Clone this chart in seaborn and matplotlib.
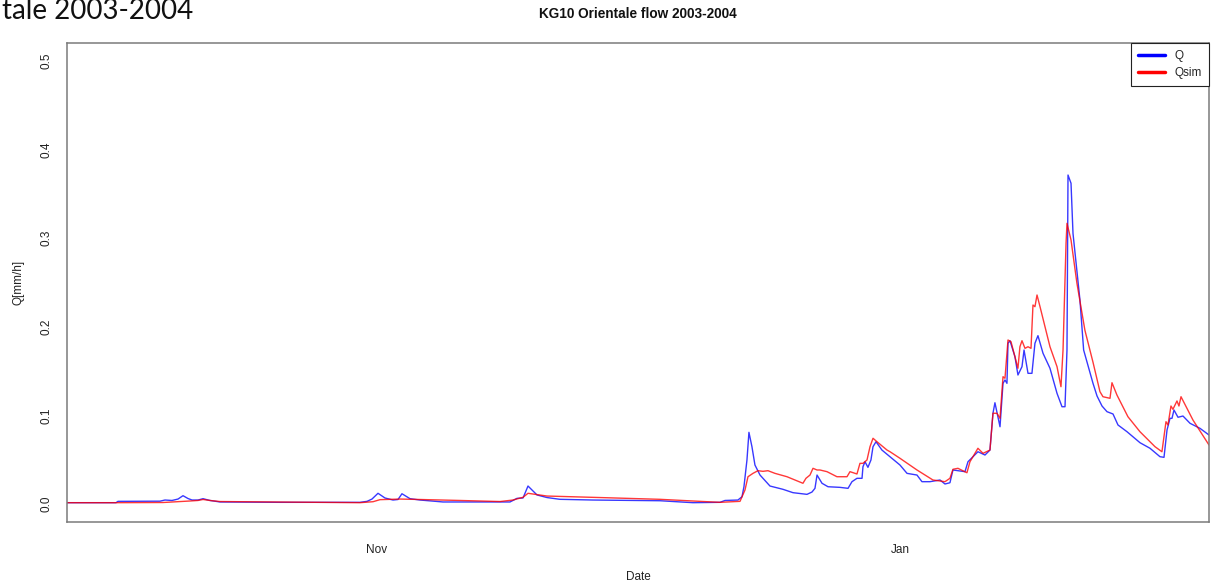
import numpy as np
import pandas as pd
import matplotlib
matplotlib.use("Agg")
import matplotlib.pyplot as plt
import seaborn as sns
from matplotlib.lines import Line2D

# ---------------- data ----------------
series_start = "2003-09-26"
x_range_days = [0.0, 133.0]

# observed flow Q: days since series_start, value [mm/h]
q_days = [0.00, 5.71, 5.94, 10.83, 11.41, 12.23, 12.93, 13.51, 14.09, 14.56, 15.26, 15.84,
          16.65, 17.82, 24.81, 31.44, 34.12, 34.94, 35.52, 36.22, 37.03, 37.97, 38.55, 39.01,
          39.95, 41.11, 43.79, 48.10, 51.59, 52.41, 53.11, 53.69, 54.15, 54.74, 55.90, 57.41,
          61.26, 65.57, 69.06, 72.90, 76.05, 76.63, 78.14, 78.61, 78.84, 79.19, 79.42, 79.77,
          80.12, 80.71, 81.87, 83.38, 84.55, 86.18, 86.76, 87.11, 87.35, 87.93, 88.63, 90.02,
          90.96, 91.42, 92.00, 92.59, 92.70, 92.94, 93.28, 93.63, 93.87, 94.22, 94.91, 95.61,
          97.01, 97.83, 98.99, 99.57, 100.50, 101.67, 102.25, 102.83, 103.18, 104.58, 104.93,
          106.09, 106.91, 107.49, 107.84, 108.07, 108.66, 109.01, 109.24, 109.47, 109.59,
          109.82, 110.40, 110.75, 111.22, 111.46, 111.92, 112.38, 112.73, 113.08, 113.67,
          114.48, 115.30, 115.88, 116.23, 116.46, 116.58, 116.93, 117.16, 117.97, 118.40,
          119.49, 119.96, 120.54, 121.12, 121.82, 122.40, 123.45, 124.96, 126.13, 127.29,
          127.76, 128.11, 128.46, 128.69, 128.92, 129.39, 129.97, 130.79, 131.95, 133.00]
q_vals = [0.0015, 0.0015, 0.0030, 0.0032, 0.0045, 0.0040, 0.0056, 0.0094, 0.0062, 0.0045,
          0.0045, 0.0060, 0.0040, 0.0023, 0.0019, 0.0019, 0.0019, 0.0030, 0.0056, 0.0121,
          0.0068, 0.0045, 0.0051, 0.0116, 0.0060, 0.0045, 0.0023, 0.0023, 0.0023, 0.0064,
          0.0068, 0.0203, 0.0158, 0.0102, 0.0073, 0.0053, 0.0045, 0.0040, 0.0037, 0.0015,
          0.0019, 0.0040, 0.0045, 0.0082, 0.0195, 0.0497, 0.0809, 0.0647, 0.0440, 0.0327,
          0.0203, 0.0166, 0.0128, 0.0109, 0.0135, 0.0177, 0.0327, 0.0234, 0.0195, 0.0188,
          0.0177, 0.0252, 0.0290, 0.0290, 0.0421, 0.0477, 0.0414, 0.0497, 0.0647, 0.0703,
          0.0609, 0.0553, 0.0440, 0.0346, 0.0327, 0.0252, 0.0252, 0.0271, 0.0226, 0.0240,
          0.0384, 0.0365, 0.0477, 0.0590, 0.0553, 0.0609, 0.1024, 0.1143, 0.0872, 0.1362,
          0.1400, 0.1362, 0.1814, 0.1843, 0.1663, 0.1456, 0.1550, 0.1738, 0.1475, 0.1475,
          0.1814, 0.1900, 0.1701, 0.1532, 0.1249, 0.1098, 0.1098, 0.1738, 0.3713, 0.3620,
          0.3055, 0.2302, 0.1738, 0.1362, 0.1219, 0.1106, 0.1042, 0.1016, 0.0892, 0.0816,
          0.0692, 0.0629, 0.0534, 0.0527, 0.0835, 0.0967, 0.0967, 0.1061, 0.0979, 0.0993,
          0.0911, 0.0854, 0.0779]

# simulated flow Qsim
qsim_days = [0.00, 5.82, 11.18, 14.32, 15.26, 15.84, 16.65, 17.82, 31.79, 34.12, 35.64, 36.45,
             38.78, 41.11, 45.77, 50.43, 51.94, 53.11, 53.69, 55.90, 62.07, 69.06, 72.90,
             76.05, 78.38, 78.96, 79.31, 79.89, 80.47, 81.05, 81.64, 82.45, 83.85, 85.71,
             86.06, 86.53, 86.88, 87.35, 87.69, 88.51, 89.67, 90.84, 91.19, 92.00, 92.35,
             92.70, 93.17, 93.52, 93.87, 94.33, 95.50, 95.85, 97.01, 98.99, 100.85, 102.25,
             102.83, 103.18, 103.76, 104.81, 105.16, 106.09, 106.68, 107.49, 107.84, 108.31,
             108.66, 109.01, 109.24, 109.59, 109.94, 110.75, 110.98, 111.22, 111.57, 111.92,
             112.27, 112.50, 112.73, 112.97, 113.32, 114.48, 115.30, 115.76, 116.00, 116.35,
             116.46, 116.93, 117.62, 118.55, 119.49, 120.30, 120.65, 121.47, 121.70, 122.28,
             123.56, 124.96, 126.71, 127.52, 127.99, 128.22, 128.57, 128.80, 129.27, 129.50,
             129.74, 131.13, 133.00]
qsim_vals = [0.0015, 0.0015, 0.0017, 0.0034, 0.0040, 0.0051, 0.0040, 0.0028, 0.0017, 0.0015,
             0.0026, 0.0049, 0.0056, 0.0051, 0.0040, 0.0028, 0.0045, 0.0076, 0.0121, 0.0090,
             0.0073, 0.0053, 0.0034, 0.0019, 0.0030, 0.0158, 0.0308, 0.0346, 0.0376, 0.0369,
             0.0376, 0.0346, 0.0308, 0.0234, 0.0290, 0.0327, 0.0403, 0.0384, 0.0384, 0.0365,
             0.0308, 0.0308, 0.0365, 0.0339, 0.0459, 0.0459, 0.0497, 0.0647, 0.0742, 0.0703,
             0.0609, 0.0590, 0.0516, 0.0384, 0.0271, 0.0252, 0.0290, 0.0392, 0.0403, 0.0353,
             0.0477, 0.0629, 0.0572, 0.0609, 0.1024, 0.1024, 0.0967, 0.1437, 0.1419, 0.1851,
             0.1832, 0.1532, 0.1775, 0.1843, 0.1757, 0.1775, 0.1757, 0.2246, 0.2227, 0.2359,
             0.2227, 0.1775, 0.1550, 0.1324, 0.1738, 0.2942, 0.3168, 0.2980, 0.2491, 0.1960,
             0.1600, 0.1268, 0.1211, 0.1193, 0.1369, 0.1230, 0.0985, 0.0816, 0.0647, 0.0590,
             0.0929, 0.0892, 0.1106, 0.1069, 0.1163, 0.1106, 0.1211, 0.0948, 0.0666]

y_ticks = [0.0, 0.1, 0.2, 0.3, 0.4, 0.5]
y_tick_labels = ["0.0", "0.1", "0.2", "0.3", "0.4", "0.5"]
x_tick_dates = ["2003-11-01", "2004-01-01"]
x_tick_labels = ["Nov", "Jan"]
series_labels = ["Q", "Qsim"]
series_colors = ["#0000ff", "#ff0000"]

title = "KG10 Orientale flow 2003-2004"
slide_fragment = "tale 2003-2004"

# ---------------- build frames ----------------
t0 = pd.Timestamp(series_start)
df_q = pd.DataFrame({"Date": t0 + pd.to_timedelta(q_days, unit="D"), "value": q_vals})
df_s = pd.DataFrame({"Date": t0 + pd.to_timedelta(qsim_days, unit="D"), "value": qsim_vals})

# ---------------- style ----------------
sns.set_theme(style="white")
plt.rcParams["font.family"] = ["Liberation Sans", "DejaVu Sans"]

W, H = 1211, 587
fig = plt.figure(figsize=(W / 100, H / 100), dpi=100)
ax = fig.add_axes([67 / W, 1 - 522 / H, (1209 - 67) / W, (522 - 43) / H])

sns.lineplot(data=df_q, x="Date", y="value", ax=ax, color=series_colors[0],
             linewidth=1.0, alpha=0.78, sort=False, estimator=None)
sns.lineplot(data=df_s, x="Date", y="value", ax=ax, color=series_colors[1],
             linewidth=1.0, alpha=0.78, sort=False, estimator=None)

ax.set_xlim(t0 + pd.Timedelta(days=x_range_days[0]), t0 + pd.Timedelta(days=x_range_days[1]))
ax.set_ylim(-0.0203, 0.5203)

ax.set_yticks(y_ticks)
ax.set_yticklabels(y_tick_labels, rotation=90, va="center")
ax.set_xticks(pd.to_datetime(x_tick_dates))
ax.set_xticklabels(x_tick_labels)

grey = "#7a7a7a"
for sp in ax.spines.values():
    sp.set_visible(True)
    sp.set_color(grey)
    sp.set_linewidth(1.1)
ax.tick_params(axis="both", direction="out", length=6.5, width=1.0, color=grey,
               labelsize=8.5, labelcolor="#222222")
ax.tick_params(axis="y", pad=4)
ax.tick_params(axis="x", pad=9)
ax.grid(False)

ax.set_xlabel("Date", fontsize=8.5, color="#222222")
ax.xaxis.set_label_coords(0.5, -(577 - 522) / 479)
ax.xaxis.label.set_va("center")
ax.set_ylabel("Q[mm/h]", fontsize=8.5, color="#222222")
ax.yaxis.set_label_coords(-(67 - 18) / 1142, 0.5)
ax.yaxis.label.set_va("center")

fig.text(638 / W, 1 - 14 / H, title, ha="center", va="center",
         fontsize=9.8, fontweight="bold", color="#111111")

fig.text(2 / W, 1 - 19 / H, slide_fragment, ha="left", va="baseline",
         fontsize=20, color="#111111", family=["Lato", "DejaVu Sans"])

handles = [Line2D([0], [0], color=c, lw=2.5) for c in series_colors]
leg = ax.legend(handles, series_labels, loc="upper right", borderaxespad=0.0,
                fontsize=8.5, frameon=True, fancybox=False, handlelength=2.3,
                handletextpad=0.8, borderpad=0.6, labelspacing=0.45)
leg.get_frame().set_edgecolor("#222222")
leg.get_frame().set_linewidth(0.8)
leg.get_frame().set_alpha(1.0)

fig.savefig("out.png", dpi=100)
